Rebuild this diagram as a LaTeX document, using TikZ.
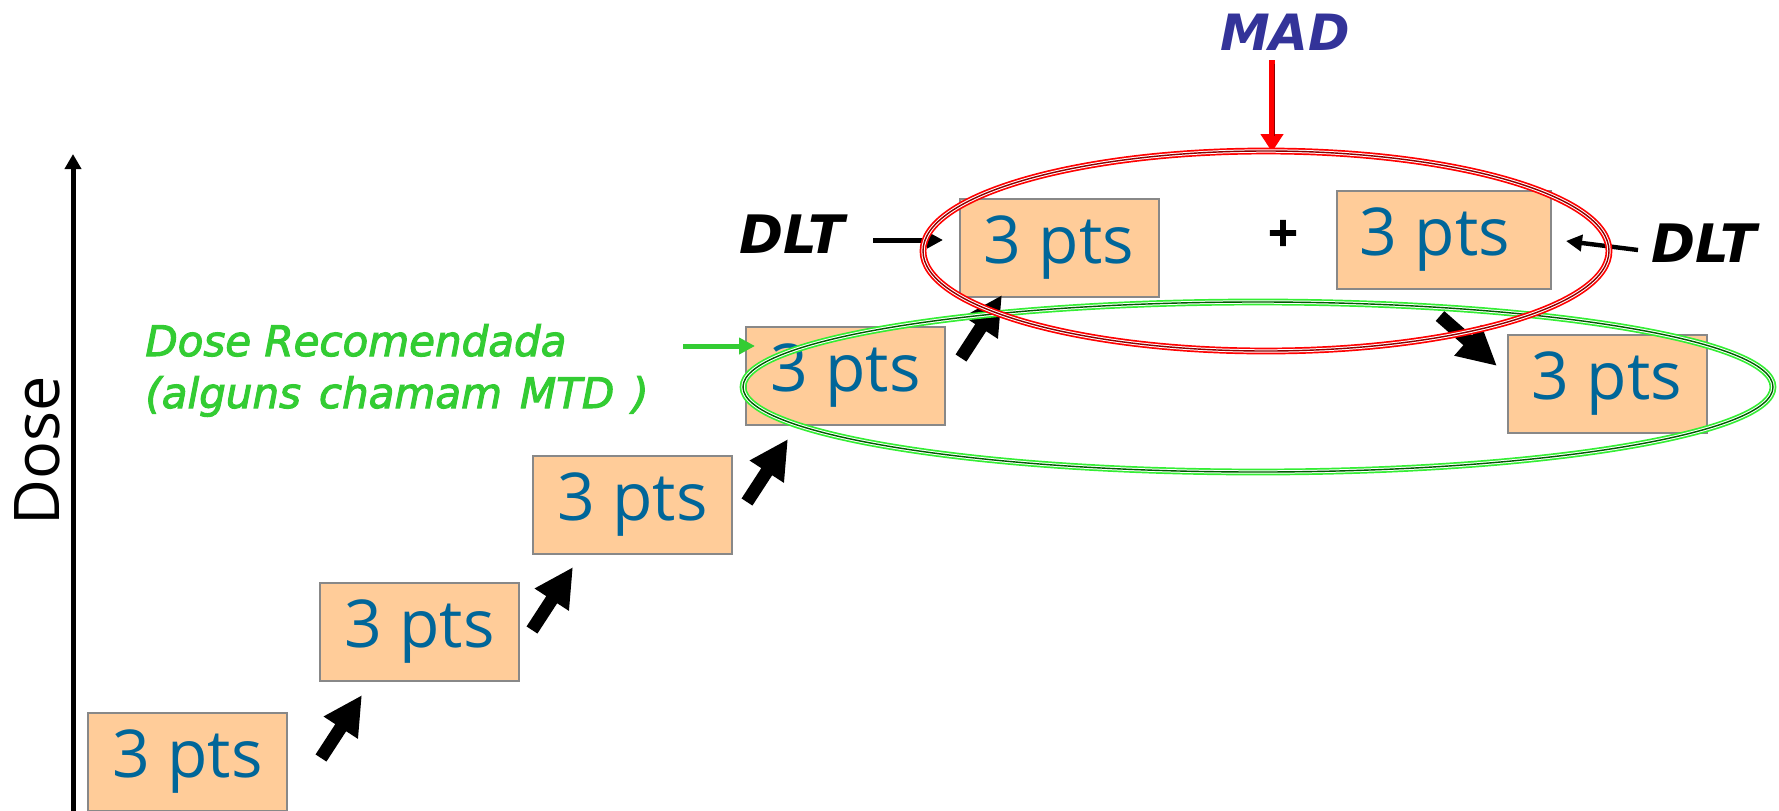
\documentclass[tikz,border=0pt]{standalone}
\usepackage{fontspec}
\setmainfont{Open Sans}
\newfontfamily\djv{DejaVu Sans}
\newfontfamily\greenfont[FakeBold=2.5]{DejaVu Sans}
\newfontfamily\heavyfont[FakeBold=3]{DejaVu Sans}
\usetikzlibrary{arrows.meta}
\definecolor{boxfill}{HTML}{FFCC99}
\definecolor{boxline}{HTML}{888888}
\definecolor{ptsblue}{HTML}{006699}
\definecolor{madblue}{HTML}{333399}
\definecolor{recgreen}{HTML}{33CC33}
\definecolor{ringgreen}{HTML}{33EE33}
\begin{document}
\begin{tikzpicture}[x=0.5pt,y=-0.5pt,
  ptsbox/.style={draw=boxline, line width=1pt, fill=boxfill, minimum width=99.5pt,
    minimum height=49pt, inner sep=0pt, text=ptsblue, font=\fontsize{33}{36}\selectfont},
  fatarrow/.style={line width=6.5pt, -{Triangle[length=19.5pt,width=19pt]}},
  thinarrow/.style={line width=2.5pt, -{Triangle[length=8pt,width=8pt]}},
  label/.style={inner sep=0pt, anchor=base},
  greentext/.style={inner sep=0pt, anchor=base west, text=recgreen, font=\greenfont\itshape\fontsize{21}{24}\selectfont},
  ringouter/.style={line width=3.4pt},
  ringgap/.style={draw=white, line width=1.7pt},
  ringcore/.style={line width=0.7pt}
]
\useasboundingbox (0,0) rectangle (1779,810);

% axis
\coordinate (axS) at (73,812);
\coordinate (axE) at (73,154);
\draw[line width=2.5pt, -{Triangle[length=7.5pt,width=8pt]}] (axS) -- (axE);
\node[label, rotate=90, font=\fontsize{31.5}{34}\selectfont] (dose) at (60,451) {Dose};

% boxes
\node[ptsbox] (b1) at (187.5,762) {3 pts};
\node[ptsbox] (b2) at (419.5,632) {3 pts};
\node[ptsbox] (b3) at (632.5,504.5) {3 pts};
\node[ptsbox] (b4) at (845.5,376) {3 pts};
\node[ptsbox] (b5) at (1059,248) {3 pts};
\node[ptsbox, minimum width=107pt] (b6) at (1444,240) {3 pts\hspace*{9pt}};
\node[ptsbox] (b7) at (1607,384) {3 pts};

% fat arrows
\coordinate (a1s) at (321,758);  \coordinate (a1e) at (362,695);
\coordinate (a2s) at (532,630);  \coordinate (a2e) at (573,567);
\coordinate (a3s) at (747,502);  \coordinate (a3e) at (788,439);
\coordinate (a4s) at (961,358);  \coordinate (a4e) at (1002,295);
\coordinate (a5s) at (1440,316); \coordinate (a5e) at (1497,366);
\draw[fatarrow] (a1s) -- (a1e);
\draw[fatarrow] (a2s) -- (a2e);
\draw[fatarrow] (a3s) -- (a3e);
\draw[fatarrow] (a4s) -- (a4e);
\draw[fatarrow] (a5s) -- (a5e);

% plus
\node[inner sep=0pt, font=\heavyfont\bfseries\fontsize{20}{22}\selectfont] (plus) at (1283,233) {+};

% labels
\node[label, font=\djv\bfseries\itshape\fontsize{26.5}{28}\selectfont] (dltL) at (792,253) {DLT};
\node[label, font=\djv\bfseries\itshape\fontsize{26.5}{28}\selectfont] (dltR) at (1704,262) {DLT};
\node[label, text=madblue, font=\djv\bfseries\itshape\fontsize{25}{28}\selectfont] (mad) at (1285,50) {MAD};
\node[greentext] (rec1) at (145,356) {Dose Recomendada};
\node[greentext] (rec2) at (145,408) {\spaceskip=9pt (alguns chamam MTD )};

% small arrows
\coordinate (dlS) at (873,240);  \coordinate (dlE) at (943,240);
\coordinate (drS) at (1638,250); \coordinate (drE) at (1566,241);
\coordinate (gS) at (683,346);   \coordinate (gE) at (755,346);
\coordinate (mS) at (1272,60);   \coordinate (mE) at (1272,152);
\draw[thinarrow] (dlS) -- (dlE);
\draw[thinarrow, line width=2.2pt] (drS) -- (drE);
\draw[thinarrow, recgreen] (gS) -- (gE);
\draw[red, line width=3pt, -{Triangle[length=9pt,width=11pt]}] (mS) -- (mE);
\draw[red!55!black, line width=0.8pt] (1274.5,64) -- (1274.5,136);

% ellipses
\coordinate (gc) at (1258,387);
\coordinate (rc) at (1266,251);
\draw[ringouter, ringgreen] (gc) ellipse [x radius=257.5pt, y radius=42.5pt];
\draw[ringgap] (gc) ellipse [x radius=257.5pt, y radius=42.5pt];
\draw[ringcore, green!35!black] (gc) ellipse [x radius=257.5pt, y radius=42.5pt];
\draw[ringouter, red] (rc) ellipse [x radius=171.5pt, y radius=50pt];
\draw[ringgap] (rc) ellipse [x radius=171.5pt, y radius=50pt];
\draw[ringcore, red!55!black] (rc) ellipse [x radius=171.5pt, y radius=50pt];
\end{tikzpicture}
\end{document}
